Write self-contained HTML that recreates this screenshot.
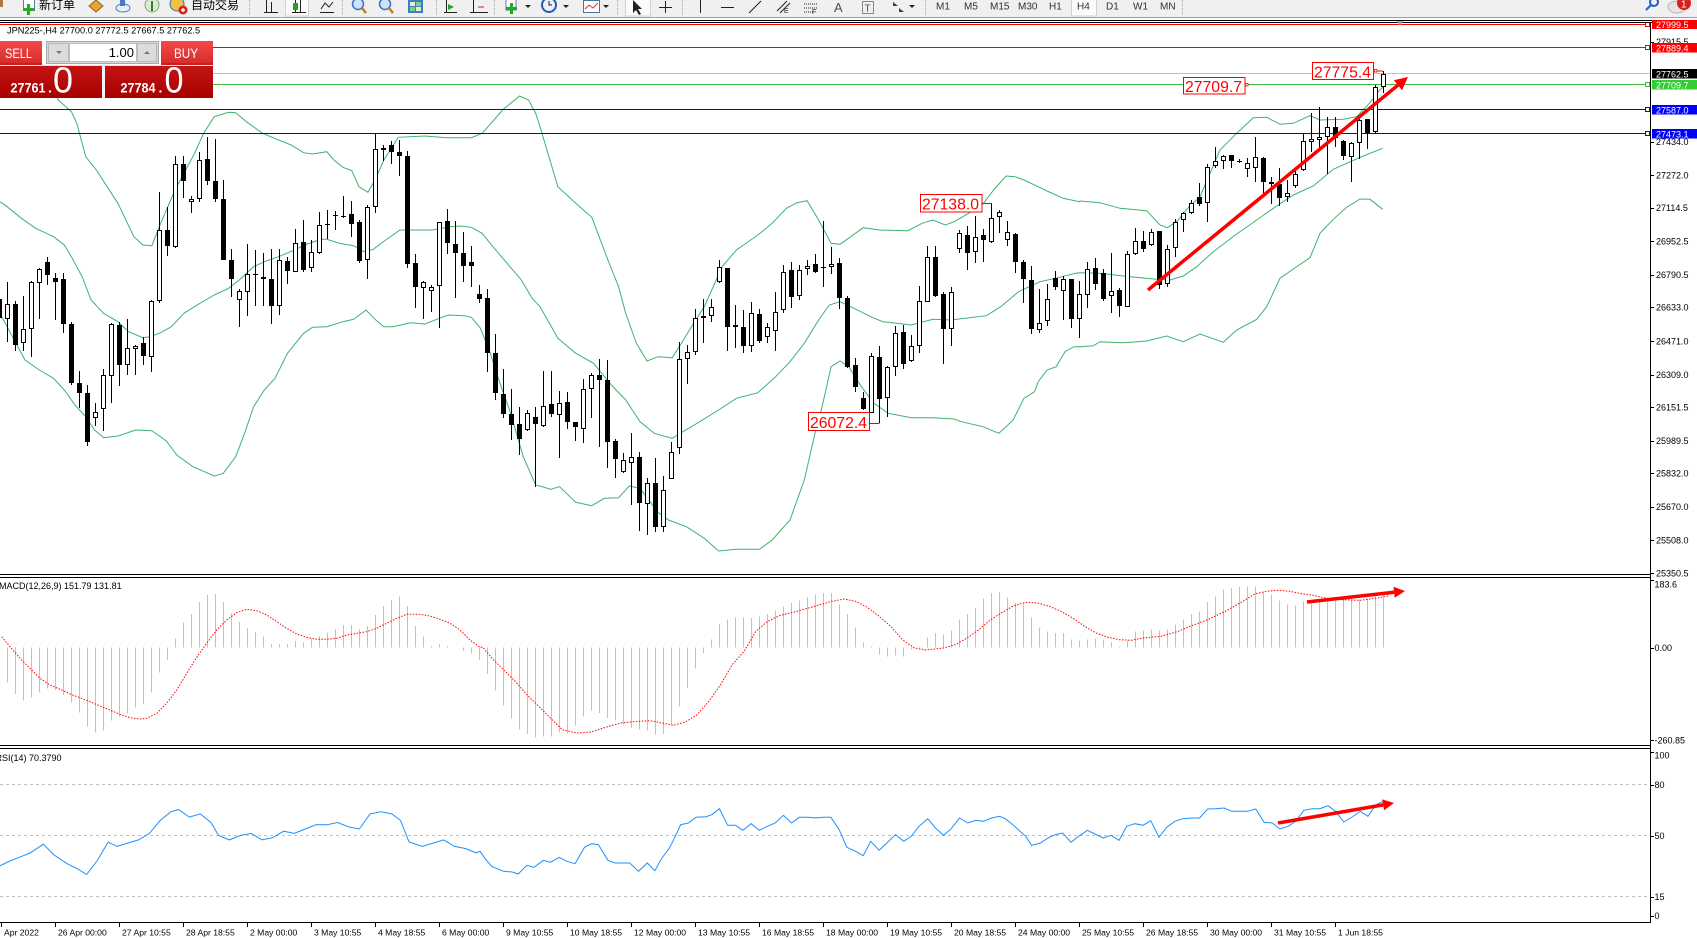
<!DOCTYPE html>
<html><head><meta charset="utf-8"><title>JPN225 H4</title>
<style>
html,body{margin:0;padding:0;background:#fff;overflow:hidden}
body{width:1697px;height:938px;position:relative}
svg{display:block}
text{font-family:"Liberation Sans","Noto Sans CJK SC",sans-serif}
</style></head><body>
<svg id="c" xmlns="http://www.w3.org/2000/svg" width="1697" height="938" viewBox="0 0 1697 938">
<defs>
<linearGradient id="gTop" x1="0" y1="0" x2="0" y2="1"><stop offset="0" stop-color="#f24a4a"/><stop offset="1" stop-color="#d62a2a"/></linearGradient>
<linearGradient id="gBot" x1="0" y1="0" x2="0" y2="1"><stop offset="0" stop-color="#d82424"/><stop offset="1" stop-color="#a80000"/></linearGradient>
</defs>
<rect width="1697" height="938" fill="#fff"/>

<!-- RSI levels -->
<g stroke="#c0c0c0" stroke-dasharray="3 3" shape-rendering="crispEdges">
<line x1="0" y1="784.5" x2="1650" y2="784.5"/>
<line x1="0" y1="835.5" x2="1650" y2="835.5"/>
<line x1="0" y1="896.5" x2="1650" y2="896.5"/>
</g>

<g id="bands" fill="none" stroke="#3cb371" stroke-width="1"></g>

<!-- horizontal price lines -->
<g shape-rendering="crispEdges">
<rect x="0" y="24" width="1647" height="1" fill="#ff0000"/>
<rect x="0" y="47" width="1647" height="1" fill="#ff0000"/>
<rect x="0" y="73" width="1651" height="1" fill="#c0c0c0"/>
<rect x="0" y="84" width="1647" height="1" fill="#3cb83c"/>
<rect x="0" y="109" width="1647" height="1" fill="#0000ff"/>
<rect x="0" y="133" width="1647" height="1" fill="#0000ff"/>
<rect x="1645.5" y="22.5" width="4" height="4" fill="#fff" stroke="#ff0000"/>
<rect x="1645.5" y="45.5" width="4" height="4" fill="#fff" stroke="#ff0000"/>
<rect x="1645.5" y="82.5" width="4" height="4" fill="#fff" stroke="#3cb83c"/>
<rect x="1645.5" y="107.5" width="4" height="4" fill="#fff" stroke="#0000ff"/>
<rect x="1645.5" y="131.5" width="4" height="4" fill="#fff" stroke="#0000ff"/>
</g>

<g id="candles" shape-rendering="crispEdges"></g>
<g id="macd" shape-rendering="crispEdges"></g>
<g id="sig" fill="none" stroke="#ff0000" stroke-width="1" stroke-dasharray="1.5 1.5"></g>
<g id="rsi" fill="none" stroke="#1e90ff" stroke-width="1"></g>
<g id="arrows" fill="#ff0000"></g>

<!-- red text labels -->
<g font-size="16" fill="#ff0000">
<rect x="1312.5" y="62.5" width="61" height="17" fill="#fff" stroke="#ff0000"/>
<text x="1314" y="77.5" textLength="57" lengthAdjust="spacingAndGlyphs">27775.4</text>
<rect x="1373" y="70.5" width="10" height="1" fill="#ff0000"/>
<rect x="1374.5" y="69.5" width="2.5" height="2.5" fill="#fff" stroke="#ff0000" stroke-width="0.8"/>
<rect x="1183.5" y="77.5" width="61.5" height="16.5" fill="#fff" stroke="#ff0000"/>
<text x="1185" y="92" textLength="57" lengthAdjust="spacingAndGlyphs">27709.7</text>
<rect x="1245.5" y="83.5" width="2.5" height="2.5" fill="#fff" stroke="#ff0000" stroke-width="0.8"/>
<rect x="920.5" y="194.5" width="61.5" height="17.5" fill="#fff" stroke="#ff0000"/>
<text x="922" y="209.5" textLength="57" lengthAdjust="spacingAndGlyphs">27138.0</text>
<rect x="982" y="203" width="10" height="1" fill="#ff0000"/>
<rect x="808.5" y="412.5" width="61" height="18" fill="#fff" stroke="#ff0000"/>
<text x="810" y="428" textLength="57" lengthAdjust="spacingAndGlyphs">26072.4</text>
<rect x="869.5" y="423" width="10" height="1" fill="#ff0000"/>
</g>

<!-- frame lines -->
<g shape-rendering="crispEdges" fill="#000">
<rect x="0" y="20" width="1697" height="1"/>
<rect x="0" y="22" width="1697" height="1"/>
<rect x="1650" y="22" width="1" height="900"/>
<rect x="0" y="574" width="1651" height="1"/>
<rect x="0" y="577" width="1651" height="1"/>
<rect x="0" y="745" width="1651" height="1"/>
<rect x="0" y="748" width="1651" height="1"/>
<rect x="0" y="922" width="1651" height="1"/>
</g>
<polygon points="1396.5,21 1403.5,21 1400,25.5" fill="#a0a0a0"/>

<!-- axis labels -->
<g id="axis" font-size="9" fill="#000"></g>

<!-- right price boxes -->
<g font-size="9" fill="#fff" shape-rendering="crispEdges">
<rect x="1652" y="20" width="45" height="9" fill="#ff0000"/>
<rect x="1652" y="43" width="45" height="9.5" fill="#ff0000"/>
<rect x="1652" y="69" width="45" height="9.5" fill="#000"/>
<rect x="1652" y="80" width="45" height="9.5" fill="#32cd32"/>
<rect x="1652" y="105" width="45" height="9.5" fill="#0000ff"/>
<rect x="1652" y="129" width="45" height="9.5" fill="#0000ff"/>
</g>
<g font-size="9" fill="#fff">
<text x="1656" y="28">27999.5</text>
<text x="1656" y="51.5">27889.4</text>
<text x="1656" y="77.5">27762.5</text>
<text x="1656" y="88.5">27709.7</text>
<text x="1656" y="113.5">27587.0</text>
<text x="1656" y="137.5">27473.1</text>
</g>

<!-- chart title and indicator labels -->
<text x="7" y="33.3" font-size="9.2" fill="#000">JPN225-,H4  27700.0 27772.5 27667.5 27762.5</text>
<text x="-1" y="589" font-size="9" fill="#000">MACD(12,26,9) 151.79 131.81</text>
<text x="-4.5" y="761" font-size="9" fill="#000">RSI(14) 70.3790</text>

<!-- SELL / BUY panel -->
<g>
<rect x="0" y="41" width="213" height="57" fill="url(#gBot)"/>
<rect x="0" y="41" width="42" height="24" fill="url(#gTop)"/>
<rect x="161" y="41" width="52" height="24" fill="url(#gTop)"/>
<rect x="0" y="63.5" width="42" height="1" fill="#b01818"/>
<rect x="161" y="63.5" width="52" height="1" fill="#b01818"/>
<rect x="42" y="41" width="119" height="24" fill="#fff"/>
<rect x="46.5" y="41.5" width="112" height="22" fill="#d8d8d8" stroke="#a8a8a8"/>
<rect x="69.5" y="43.5" width="67" height="18" fill="#fff" stroke="#c0c0c0"/>
<rect x="48.5" y="43.5" width="20" height="18" fill="#dcdcdc" stroke="#b8b8b8"/>
<rect x="137.5" y="43.5" width="19" height="18" fill="#dcdcdc" stroke="#b8b8b8"/>
<polygon points="56,51 62,51 59,54" fill="#6a78a8"/>
<polygon points="144,54 150,54 147,51" fill="#6a78a8"/>
<text x="134" y="57" font-size="13" fill="#000" text-anchor="end">1.00</text>
<text x="5" y="58" font-size="14" fill="#fff" textLength="27" lengthAdjust="spacingAndGlyphs">SELL</text>
<text x="174" y="58" font-size="14" fill="#fff" textLength="24" lengthAdjust="spacingAndGlyphs">BUY</text>
<rect x="102" y="65" width="3" height="33" fill="#f4f4f4"/>
<rect x="0" y="65" width="213" height="1" fill="#f0dede"/>
<text x="10.5" y="92.5" font-size="14" font-weight="bold" fill="#fff" textLength="35" lengthAdjust="spacingAndGlyphs">27761</text>
<text x="48" y="92.5" font-size="14" font-weight="bold" fill="#fff">.</text>
<text x="53" y="92.5" font-size="36" fill="#fff" textLength="20" lengthAdjust="spacingAndGlyphs">0</text>
<text x="120.5" y="92.5" font-size="14" font-weight="bold" fill="#fff" textLength="35" lengthAdjust="spacingAndGlyphs">27784</text>
<text x="158.5" y="92.5" font-size="14" font-weight="bold" fill="#fff">.</text>
<text x="164.5" y="92.5" font-size="36" fill="#fff" textLength="19" lengthAdjust="spacingAndGlyphs">0</text>
</g>

<!-- toolbar -->
<g>
<rect x="0" y="0" width="1697" height="17" fill="#f0f0f0"/>
<rect x="0" y="17" width="1697" height="1" fill="#a0a0a0"/>
<rect x="0" y="18" width="1697" height="2" fill="#fbfbfb"/>
<rect x="0" y="0" width="3" height="7" fill="#b07840"/>
<rect x="23.5" y="-1.5" width="11" height="12" fill="#fff" stroke="#5a7aa0"/>
<rect x="27" y="4" width="3" height="11" fill="#22aa22"/><rect x="23" y="8" width="11" height="3" fill="#22aa22"/>
<text x="39" y="9" font-size="12" fill="#000">新订单</text>
<polygon points="89,6 96,0 103,6 96,12" fill="#e2a436" stroke="#9a6010"/>
<ellipse cx="123" cy="8" rx="7" ry="4" fill="#e6eef8" stroke="#4a7ac0"/><rect x="120" y="0" width="5" height="6" fill="#4a7ac0"/>
<circle cx="152" cy="5" r="7" fill="#dde8d6" stroke="#78a878"/><rect x="151" y="1" width="2" height="10" fill="#2a8a2a"/>
<circle cx="177" cy="4" r="7" fill="#f0c040" stroke="#3070c0"/><circle cx="183" cy="10" r="4.5" fill="#e02020"/><circle cx="183" cy="10" r="1.8" fill="#fff"/>
<text x="191" y="9" font-size="12" fill="#000">自动交易</text>
<g stroke="#a8a8a8" stroke-dasharray="1 1"><line x1="249.5" y1="0" x2="249.5" y2="16"/><line x1="342.5" y1="0" x2="342.5" y2="16"/><line x1="436.5" y1="0" x2="436.5" y2="16"/><line x1="494.5" y1="0" x2="494.5" y2="16"/><line x1="617.5" y1="0" x2="617.5" y2="16"/><line x1="682.5" y1="0" x2="682.5" y2="16"/><line x1="925.5" y1="0" x2="925.5" y2="16"/><line x1="1182.5" y1="0" x2="1182.5" y2="16"/></g>
<rect x="285.5" y="-1" width="23" height="17" fill="#fbfbfb" stroke="#d0d0d0"/>
<rect x="625.5" y="-1" width="25" height="17" fill="#fbfbfb" stroke="#d0d0d0"/>
<rect x="1071.5" y="-1" width="25" height="17" fill="#fbfbfb" stroke="#d0d0d0"/>
<g fill="none" stroke="#202020" stroke-width="1">
<path d="M266.5 0V12M271.5 2V13M264 12.5H278"/>
<path d="M295.5 0V13M300.5 0V13M292 12.5H306"/>
<path d="M321 9L325 3L329 7L333 2M320 12.5H334"/>
<path d="M446.5 0V13M444 12.5H457"/>
<path d="M473.5 0V13M470 12.5H488"/>
<path d="M665.5 1V13M659 7.5H672"/>
<path d="M700.5 0V13"/>
<path d="M721 7.5H734"/>
<path d="M749 13L761 1"/>
<path d="M777 11L787 1M780 13L790 3"/>
<path d="M804 4H818M804 8H818M804 12H814" stroke-dasharray="1 1"/>
<path d="M862.5 1.5H873.5V13.5H862.5Z" stroke-dasharray="1 1"/>
</g>
<rect x="293" y="3" width="5" height="7" fill="#28a028"/>
<path d="M448 4L454 7L448 10Z" fill="#28a028"/>
<path d="M478 7H484" stroke="#d02020"/>
<circle cx="358" cy="4" r="5.5" fill="#cfe2fb" stroke="#3a70c0" stroke-width="1.5"/><path d="M362 8L366 13" stroke="#c08020" stroke-width="2.5"/>
<circle cx="385" cy="4" r="5.5" fill="#cfe2fb" stroke="#3a70c0" stroke-width="1.5"/><path d="M389 8L393 13" stroke="#c08020" stroke-width="2.5"/>
<rect x="408" y="0" width="15" height="13" fill="#3a7ad0"/><rect x="410" y="2" width="5" height="4" fill="#e8f0c0"/><rect x="416" y="2" width="5" height="4" fill="#80d080"/><rect x="410" y="7" width="5" height="4" fill="#80d080"/><rect x="416" y="7" width="5" height="4" fill="#e8f0c0"/>
<rect x="506" y="-2" width="10" height="12" fill="#fff" stroke="#6080a0"/><rect x="510" y="3" width="3" height="11" fill="#22aa22"/><rect x="506" y="7" width="11" height="3" fill="#22aa22"/>
<path d="M525 5H531L528 8Z" fill="#202020"/>
<circle cx="549" cy="5" r="7" fill="#e8f0fa" stroke="#2a5aa8" stroke-width="2"/><path d="M549 1V5H552" stroke="#202020" fill="none"/>
<path d="M563 5H569L566 8Z" fill="#202020"/>
<rect x="583.5" y="0.5" width="16" height="12" fill="#fff" stroke="#5070a0"/><path d="M585 9L589 5L593 8L598 3" stroke="#d03030" fill="none"/>
<path d="M603 5H609L606 8Z" fill="#202020"/>
<path d="M633 0L633 13L636 10L639 15L641 14L638 9L642 9Z" fill="#202020"/>
<text x="784" y="13" font-size="7" fill="#202020">E</text>
<text x="812" y="14" font-size="7" fill="#202020">F</text>
<text x="834" y="12" font-size="13" fill="#505050">A</text>
<text x="864.5" y="11.5" font-size="10" fill="#505050">T</text>
<path d="M893 2L898 6L893 6Z M899 8L904 12L899 12Z" fill="#404040"/>
<path d="M909 5H915L912 8Z" fill="#202020"/>
<g font-size="10" fill="#303030">
<text x="936" y="9.5">M1</text><text x="964" y="9.5">M5</text><text x="990" y="9.5">M15</text><text x="1018" y="9.5">M30</text><text x="1049" y="9.5">H1</text><text x="1077" y="9.5">H4</text><text x="1106" y="9.5">D1</text><text x="1133" y="9.5">W1</text><text x="1160" y="9.5">MN</text>
</g>
<circle cx="1654" cy="2" r="4" fill="none" stroke="#2060c0" stroke-width="2"/><path d="M1651 5L1646 10" stroke="#2060c0" stroke-width="2"/>
<ellipse cx="1677" cy="7" rx="9" ry="6" fill="#e4e4e4" stroke="#b0b0b0"/>
<circle cx="1684" cy="3" r="7" fill="#d82020"/>
<text x="1681" y="7.5" font-size="10" fill="#fff">1</text>
</g>
</svg>
<script>
(function(){
var NS="http://www.w3.org/2000/svg";
function mk(t,a,p){var e=document.createElementNS(NS,t);for(var k in a)e.setAttribute(k,a[k]);p.appendChild(e);return e;}
function $(id){return document.getElementById(id);}
function pts(a){return a.map(function(p){return p[0].toFixed(1)+','+p[1].toFixed(1);}).join(' ');}
function z9(p){return [p[0]/2.8,80+p[1]/3];}
function z10(p){return [540+p[0]/2.8,80+p[1]/3];}
function z11(p){return [1080+p[0]/3,80+p[1]/3];}

/* Bollinger bands */
var U9=[[163,60],[200,95],[215,130],[240,230],[270,270],[300,320],[330,370],[375,470],[400,495],[425,497],[450,430],[490,330],[520,270],[545,220],[570,160],[600,110],[640,97],[660,98],[690,125],[735,160],[780,180],[815,195],[850,218],[875,222],[915,215],[935,240],[960,262],[985,272],[1005,320],[1030,337],[1050,300],[1075,240],[1115,172],[1190,168],[1250,173],[1320,173],[1350,160],[1410,87],[1455,48],[1480,60],[1500,100]];
var U10=[[0,140],[25,230],[50,320],[100,370],[145,412],[190,540],[220,620],[240,700],[270,790],[300,843],[330,830],[370,833],[390,800],[430,730],[460,680],[510,560],[550,510],[610,465],[650,430],[690,385],[720,368],[748,362],[780,420],[815,490],[840,493],[870,470],[905,443],[950,450],[1030,452],[1070,430],[1100,420],[1135,435],[1160,425],[1200,400],[1240,372],[1270,330],[1305,288],[1330,290],[1355,300],[1395,320],[1420,333],[1465,355],[1510,365]];
var U11=[[0,363],[60,368],[120,385],[200,392],[240,435],[262,443],[290,425],[320,388],[360,350],[420,210],[470,160],[520,113],[560,112],[600,133],[640,130],[690,107],[720,120],[790,118],[830,110],[870,68],[895,35],[908,22]];
var M9=[[0,365],[20,380],[60,415],[100,445],[150,470],[180,495],[200,530],[230,590],[255,660],[290,700],[330,725],[360,755],[400,773],[420,770],[450,758],[480,740],[515,700],[560,670],[600,645],[640,625],[670,600],[710,560],[740,545],[780,530],[820,512],[860,492],[900,478],[915,478],[950,490],[990,497],[1020,515],[1045,508],[1080,480],[1120,450],[1160,450],[1210,450],[1260,440],[1290,438],[1320,442],[1350,460],[1380,500],[1420,550],[1460,600],[1490,655]];
var M10=[[0,680],[50,775],[100,820],[150,850],[200,915],[240,960],[280,1025],[320,1060],[370,1075],[400,1055],[440,1030],[500,990],[550,955],[610,938],[660,890],[700,845],[740,790],[780,720],[810,675],[840,665],[870,680],[930,712],[960,725],[1040,735],[1100,718],[1150,720],[1250,707],[1290,680],[1340,635],[1400,605],[1450,593],[1500,580]];
var M11=[[0,578],[60,580],[150,590],[230,598],[270,600],[310,588],[350,560],[400,515],[470,462],[530,420],[580,385],[640,345],[700,318],[760,268],[800,250],[850,228],[908,205]];
var L9=[[0,700],[20,740],[70,840],[110,870],[150,895],[180,930],[210,975],[240,1010],[265,1050],[290,1073],[330,1068],[380,1050],[425,1052],[465,1082],[495,1125],[540,1160],[600,1188],[625,1180],[660,1130],[685,1060],[710,980],[740,930],[770,895],[805,820],[850,760],[875,742],[915,740],[960,725],[990,718],[1025,690],[1050,718],[1075,740],[1100,740],[1150,728],[1190,732],[1230,715],[1255,705],[1300,707],[1320,712],[1345,745],[1370,810],[1400,910],[1430,1000],[1465,1130],[1500,1215]];
var L10=[[0,1218],[30,1228],[55,1220],[100,1267],[145,1277],[180,1255],[220,1253],[250,1218],[280,1225],[330,1297],[360,1320],[410,1340],[460,1375],[500,1413],[550,1408],[615,1408],[650,1380],[700,1320],[740,1200],[770,1060],[790,980],[815,860],[840,843],[865,860],[900,920],[935,970],[975,1000],[1040,1013],[1100,1013],[1160,1017],[1180,1025],[1240,1040],[1285,1060],[1325,1020],[1355,955],[1385,935],[1395,905],[1420,870],[1445,860],[1470,815],[1495,800]];
var L11=[[0,800],[40,797],[60,785],[130,788],[200,783],[260,768],[310,785],[360,762],[430,787],[470,750],[530,718],[560,680],[600,595],[640,567],[690,533],[720,460],[760,418],[800,382],[840,357],[870,358],[908,388]];
var gb=$('bands');
mk('polyline',{points:pts([[45,70]].concat(U9.map(z9),U10.map(z10),U11.map(z11)))},gb);
mk('polyline',{points:pts(M9.map(z9).concat(M10.map(z10),M11.map(z11)))},gb);
mk('polyline',{points:pts(L9.map(z9).concat(L10.map(z10),L11.map(z11)))},gb);

/* candles */
var C=[[-1,0,658,715,640,720],[0,1,673,716,606,785],[1,0,673,795,663,812],[2,1,748,790,648,812],[3,1,607,748,603,830],[4,1,566,610,565,717],[5,0,547,584,532,616],[6,0,595,605,580,720],[7,0,598,733,578,760],[8,0,733,908,726,915],[9,0,908,940,873,985],[10,0,940,1087,915,1097],[11,1,997,1015,970,1037],[12,1,886,988,867,1052],[13,1,733,889,728,968],[14,0,735,855,727,917],[15,1,805,855,717,884],[16,1,797,808,795,884],[17,0,790,827,770,854],[18,1,663,830,660,877],[19,1,449,662,337,668],[20,0,451,499,381,527],[21,1,253,502,228,503],[22,0,253,302,229,355],[23,1,358,367,348,398],[24,1,241,358,215,366],[25,0,238,302,170,314],[26,0,303,356,178,365],[27,0,357,539,300,539],[28,0,540,598,508,650],[29,1,634,660,628,740],[30,1,583,635,491,708],[31,0,582,586,510,677],[32,0,590,596,519,677],[33,0,597,677,507,733],[34,1,541,677,507,705],[35,0,543,572,530,611],[36,1,490,575,447,577],[37,0,487,570,420,575],[38,1,517,565,480,575],[39,1,436,520,397,521],[40,0,432,434,390,477],[41,0,406,408,393,450],[42,0,407,409,348,415],[43,0,402,432,363,470],[44,0,426,543,420,550],[45,1,382,541,374,596],[46,1,208,382,162,400],[47,1,205,211,195,243],[48,0,196,215,182,253],[49,0,215,229,180,287],[50,0,229,553,212,565],[51,0,550,620,522,683],[52,1,606,625,603,718],[53,1,622,634,615,695],[54,1,427,617,425,745],[55,0,424,490,387,523],[56,0,493,520,423,653],[57,0,520,557,456,605],[58,0,546,557,498,620],[59,0,643,656,615,670],[60,0,655,818,628,875],[61,0,820,940,762,960],[62,0,942,1003,868,1013],[63,0,1003,1036,927,1080],[64,0,1033,1078,982,1126],[65,1,1000,1050,990,1053],[66,0,1010,1033,980,1222],[67,1,977,1037,873,1040],[68,0,972,1003,873,1010],[69,1,970,1005,933,1133],[70,0,967,1027,935,1048],[71,0,1027,1042,1027,1082],[72,1,928,1048,897,1088],[73,1,886,928,878,1013],[74,0,886,901,838,1100],[75,0,900,1085,840,1163],[76,0,1083,1138,1077,1195],[77,1,1140,1177,1120,1180],[78,1,1130,1148,1060,1275],[79,0,1130,1270,1115,1352],[80,1,1208,1273,1195,1365],[81,0,1210,1340,1135,1355],[82,1,1230,1340,1187,1355],[83,1,1115,1198,1085,1198],[84,1,838,1105,787,1123],[85,1,815,838,795,913],[86,1,715,815,688,825],[87,0,708,713,658,790],[88,1,680,708,658,725],[89,1,560,607,540,610],[90,0,565,740,565,812],[91,0,735,742,675,805],[92,0,742,797,690,818],[93,1,700,797,667,815],[94,0,703,782,688,790],[95,1,740,772,728,790],[96,1,695,753,636,812],[97,1,575,690,555,700],[98,0,570,650,546,683],[99,1,570,648,555,660],[100,1,559,567,540,585],[101,0,552,575,523,578],[102,0,560,562,423,620],[103,1,552,562,500,583],[104,0,549,653,535,688],[105,0,655,860,648,865],[106,0,856,922,833,935],[107,0,955,987,935,990],[108,1,828,1000,820,1000],[109,0,832,957,797,1030],[110,1,860,955,857,1010],[111,1,760,862,738,888],[112,0,757,853,735,868],[113,1,797,843,765,845],[114,1,662,797,618,818],[115,1,532,665,498,667],[116,0,532,648,498,652],[117,0,642,748,636,853],[118,1,637,748,622,797],[119,1,458,507,450,520],[120,0,466,518,437,570],[121,1,470,517,408,550],[122,0,466,480,447,545],[123,1,415,485,370,488],[124,1,395,412,390,458],[125,1,455,480,423,497],[126,0,463,547,458,580],[127,0,547,598,540,670],[128,0,600,748,558,763],[129,1,728,750,627,760],[130,1,656,723,612,737],[131,0,595,620,573,630],[132,1,598,633,588,720],[133,0,598,717,598,745],[134,1,641,717,603,775],[135,1,568,645,545,683],[136,0,565,613,535,630],[137,0,578,658,568,662],[138,1,632,648,520,700],[139,0,630,678,625,712],[140,1,522,680,513,682],[141,1,482,522,443,525],[142,0,482,508,452,517],[143,1,455,495,448,497],[144,0,453,615,452,628],[145,1,508,612,495,620],[146,1,425,505,418,530],[147,1,400,420,395,455],[148,1,368,400,360,402],[149,0,352,373,310,378],[150,1,260,370,253,425],[151,1,243,258,202,265],[152,1,227,243,225,268],[153,0,226,243,225,263],[154,0,243,245,238,250],[155,1,248,268,233,290],[156,1,232,265,172,305],[157,0,235,307,232,340],[158,0,307,313,290,373],[159,0,312,355,265,377],[160,1,338,352,300,365],[161,1,283,317,268,325],[162,1,183,270,160,273],[163,1,178,185,100,215],[164,1,172,181,80,213],[165,1,140,172,112,283],[166,0,140,175,112,200],[167,0,183,227,180,240],[168,1,190,230,185,305],[169,1,121,188,117,237],[170,0,118,158,118,207],[171,1,22,157,15,162],[172,1,-19,20,-26,40]];
var gc=$('candles');
C.forEach(function(c){
  var x=7+8*c[0];
  var bt=Math.round(80+c[2]/3), bb=Math.round(80+c[3]/3), wt=Math.round(80+c[4]/3), wb=Math.round(80+c[5]/3);
  mk('rect',{x:x,y:wt,width:1,height:Math.max(1,wb-wt),fill:'#000'},gc);
  var h=bb-bt;
  if(h<2){mk('rect',{x:x-2,y:bt,width:5,height:1,fill:'#000'},gc);}
  else{
    mk('rect',{x:x-2,y:bt,width:5,height:h,fill:'#000'},gc);
    if(c[1]) mk('rect',{x:x-1,y:bt+1,width:3,height:h-2,fill:'#fff'},gc);
  }
});

/* MACD histogram */
var H6=[338,372,392,383,368,355,360,375,398,428,470,488,482,452,440,430,413,402,368,308,270,205,158,132,96,75,72,96,130,156,174,186,200,222,222,222,213,218,205,198,188,177,165,165,177,168,135,108,90,80,108,168,200,228,222,228,233,243,250,270];
var H12=[288,338,383,422,455,468,478,476,476,463,466,443,415,397,405,420,428,440,450,455,458,470,468,440,385,330,272,225,185,138,125,118,118,120,115,108,97,85,75,67,57,50,45,45,80,108,148,193,205,230,235,232,235,215,205,178,165,170,158,125,108,90,62,45,42,58,75,78,118,148,160,165,165,185,188,185,182,185,192,205,187,160,158,155,158,155,140,125,108,100,72,55,35,30,27,25,25,42,50,68,80,82,70,70,65,62,60,65,65,65,60,55,50];
var gm=$('macd'), zero=647.5;
function bar(i,y){var x=7+8*i;var t=Math.min(zero,y),h=Math.abs(y-zero);if(h<0.6)return;mk('rect',{x:x,y:t.toFixed(1),width:1,height:Math.max(1,h).toFixed(1),fill:'#c0c0c0'},gm);}
H6.forEach(function(v,i){bar(i,570+v/3);});
H12.forEach(function(v,i){bar(60+i,578+v/3);});

/* signal line */
var S6=[[5,200],[30,230],[60,265],[90,295],[120,325],[150,345],[180,358],[210,372],[240,383],[270,395],[300,408],[330,420],[360,433],[390,443],[420,447],[440,445],[470,430],[500,400],[530,360],[560,310],[590,262],[620,220],[650,180],[680,150],[710,128],[740,118],[770,122],[800,135],[830,155],[860,175],[890,192],[920,202],[950,208],[980,208],[1010,205],[1040,195],[1070,190],[1100,185],[1130,175],[1160,160],[1190,145],[1220,133],[1260,133],[1290,138],[1320,148],[1350,160],[1380,180],[1410,210],[1440,232]];
var S12=[[5,208],[20,240],[40,275],[60,310],[80,350],[100,385],[120,420],[140,455],[165,465],[190,462],[210,450],[240,435],[270,430],[290,428],[310,435],[330,442],[350,432],[370,410],[390,370],[410,320],[430,260],[450,220],[470,160],[490,130],[510,113],[540,100],[570,85],[600,70],[620,63],[640,70],[660,88],[680,115],[700,145],[720,185],[740,210],[760,216],[790,210],[810,200],[830,180],[850,155],[870,125],[890,103],[910,83],[930,73],[950,75],[970,85],[990,100],[1010,120],[1030,145],[1050,165],[1070,178],[1090,185],[1110,187],[1130,180],[1160,175],[1190,160],[1210,145],[1240,125],[1270,100],[1300,70],[1320,48],[1340,40],[1360,37],[1380,40],[1400,47],[1420,52],[1440,60],[1470,65],[1500,67],[1530,60],[1550,53]];
var sp=S6.map(function(p){return [p[0]/3,570+p[1]/3];}).concat(S12.map(function(p){return [480+p[0]/1.704,578+p[1]/3];}));
mk('polyline',{points:pts(sp)},$('sig'));

/* RSI */
var RO=[[0,800],[8,796],[18,792],[28,788],[40,780],[50,790],[62,798],[72,803],[80,808],[90,795],[100,778],[108,782],[118,779],[128,776],[138,770],[148,758],[158,750],[165,748],[175,755],[185,752],[195,760],[202,772],[212,776],[222,772],[232,770],[242,776],[252,774],[262,768],[272,770],[282,766],[292,762],[302,762],[312,760],[322,764],[332,766],[342,752],[352,750],[362,752],[370,758],[378,778],[390,782],[400,779],[410,776],[420,782],[430,784],[440,788]];
var R12=[[0,820],[10,845],[20,865],[40,880],[55,882],[65,888],[80,862],[92,868],[108,847],[120,853],[135,838],[148,850],[162,857],[178,808],[190,797],[202,800],[218,847],[230,855],[255,855],[270,880],[285,855],[298,878],[310,840],[322,812],[330,785],[342,740],[355,735],[368,718],[385,716],[395,710],[408,692],[422,742],[435,742],[448,757],[462,737],[476,757],[490,745],[503,735],[517,712],[531,735],[544,718],[560,718],[572,720],[585,718],[598,718],[612,755],[625,808],[640,820],[653,833],[666,790],[680,817],[695,792],[708,770],[722,790],[735,775],[748,745],[763,722],[776,750],[790,772],[803,752],[817,720],[831,735],[845,727],[858,730],[872,720],[885,715],[895,722],[908,740],[920,760],[930,775],[940,802],[955,795],[968,780],[980,770],[993,765],[1007,793],[1020,775],[1035,757],[1048,768],[1062,780],[1075,772],[1089,787],[1102,745],[1116,737],[1130,742],[1143,728],[1157,778],[1170,748],[1184,730],[1198,722],[1212,720],[1226,720],[1240,693],[1254,692],[1268,690],[1281,700],[1295,700],[1308,700],[1322,693],[1336,733],[1350,735],[1363,753],[1377,745],[1390,730],[1404,697],[1418,692],[1431,692],[1445,683],[1458,700],[1472,732],[1486,717],[1500,700],[1513,715],[1527,680],[1541,668]];
var rp=RO.map(function(p){return [p[0]*1.0823,p[1]*1.0823];}).concat(R12.map(function(p){return [480+p[0]/1.704,578+p[1]/3];}));
mk('polyline',{points:pts(rp)},$('rsi'));

/* arrows */
var ga=$('arrows');
function arrow(x1,y1,x2,y2,w,hl,hw){
  var dx=x2-x1,dy=y2-y1,L=Math.sqrt(dx*dx+dy*dy),ux=dx/L,uy=dy/L;
  var bx=x2-ux*hl,by=y2-uy*hl;
  mk('line',{x1:x1,y1:y1,x2:bx.toFixed(1),y2:by.toFixed(1),stroke:'#ff0000','stroke-width':w},ga);
  mk('polygon',{points:pts([[x2,y2],[bx-uy*hw,by+ux*hw],[bx+uy*hw,by-ux*hw]])},ga);
}
arrow(1148,290,1408,77,3.5,13,6.5);
arrow(1307,602,1405,591,3.5,11,5.5);
arrow(1278,823,1394,803,3.5,11,5.5);

/* axis labels */
var ax=$('axis');
function py(p){return 24.5+(27999.5-p)*0.20705;}
['27915.5','27434.0','27272.0','27114.5','26952.5','26790.5','26633.0','26471.0','26309.0','26151.5','25989.5','25832.0','25670.0','25508.0','25350.5'].forEach(function(s){
  var y=py(parseFloat(s));
  mk('rect',{x:1651,y:Math.round(y),width:3,height:1,fill:'#000'},ax);
  var t=mk('text',{x:1656,y:(y+3.3).toFixed(1)},ax); t.textContent=s;
});
[['183.6',580,587.5],['0.00',647.5,651],['-260.85',740,743.3],['100',752,758.5],['80',784.5,788],['50',835.5,839],['15',896.5,900],['0',915.5,919]].forEach(function(a){
  mk('rect',{x:1651,y:Math.round(a[1]),width:3,height:1,fill:'#000'},ax);
  var t=mk('text',{x:1654.5,y:a[2]},ax); t.textContent=a[0];
});
var TL=['26 Apr 00:00','27 Apr 10:55','28 Apr 18:55','2 May 00:00','3 May 10:55','4 May 18:55','6 May 00:00','9 May 10:55','10 May 18:55','12 May 00:00','13 May 10:55','16 May 18:55','18 May 00:00','19 May 10:55','20 May 18:55','24 May 00:00','25 May 10:55','26 May 18:55','30 May 00:00','31 May 10:55','1 Jun 18:55'];
var t0=mk('text',{x:4,y:935.5,'font-size':8.6},ax); t0.textContent='Apr 2022';
mk('rect',{x:1,y:922,width:1,height:5,fill:'#000'},ax);
TL.forEach(function(s,k){
  var x=55+64*k;
  mk('rect',{x:x,y:922,width:1,height:5,fill:'#000'},ax);
  var t=mk('text',{x:x+3,y:935.5,'font-size':8.6},ax); t.textContent=s;
});
})();
</script>
</body></html>
